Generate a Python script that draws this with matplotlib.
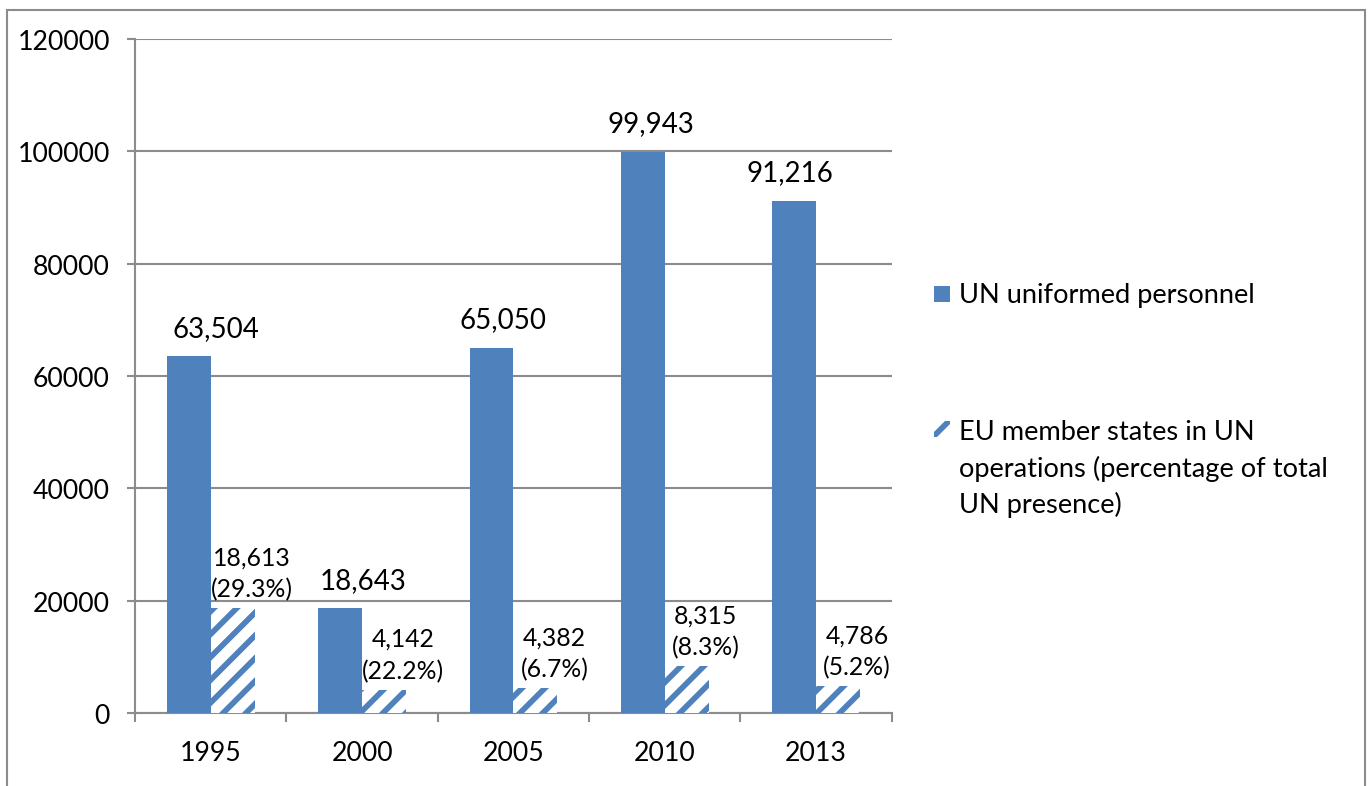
import numpy as np
import matplotlib
matplotlib.use("Agg")
import matplotlib.pyplot as plt
from matplotlib.patches import Rectangle

years = ["1995", "2000", "2005", "2010", "2013"]
un_personnel = [63504, 18643, 65050, 99943, 91216]
eu_personnel = [18613, 4142, 4382, 8315, 4786]
eu_share = ["29.3%", "22.2%", "6.7%", "8.3%", "5.2%"]

legend_labels = ["UN uniformed personnel",
                 "EU member states in UN\noperations (percentage of total\nUN presence)"]

blue = "#4F81BD"
grey = "#8C8C8C"

plt.rcParams["font.family"] = ["Lato", "DejaVu Sans"]
plt.rcParams["hatch.linewidth"] = 3.0

fig = plt.figure(figsize=(10, 5.74), dpi=137.1)
ax = fig.add_axes([0.0985, 0.0928, 0.552, 0.8564])

x = np.arange(len(years))
w = 0.29
b1 = ax.bar(x - w / 2, un_personnel, w, color=blue, zorder=3)
b2 = ax.bar(x + w / 2, eu_personnel, w, color="white", edgecolor=blue,
            hatch="//", linewidth=0, zorder=3)

ax.set_ylim(0, 120000)
ax.set_xlim(-0.5, len(years) - 0.5)
ax.set_yticks(np.arange(0, 120001, 20000))
ax.set_yticklabels([str(v) for v in range(0, 120001, 20000)], fontsize=14)
ax.yaxis.grid(True, color=grey, linewidth=1.1, zorder=0)
ax.set_axisbelow(True)

# boundary ticks at category edges, labels at centers
ax.set_xticks(np.arange(-0.5, len(years)), labels=[""] * (len(years) + 1))
ax.set_xticks(x, labels=years, minor=True)
ax.tick_params(axis="x", which="major", length=4.5, width=1.1, color=grey)
ax.tick_params(axis="x", which="minor", length=0, pad=14, labelsize=14)
ax.tick_params(axis="y", length=4.2, width=1.1, color=grey, pad=9)

for s in ["top", "right"]:
    ax.spines[s].set_visible(False)
for s in ["left", "bottom"]:
    ax.spines[s].set_color(grey)
    ax.spines[s].set_linewidth(1.1)

# data labels
blue_dx = [14, 12, 6, 4, -2]
for i, v in enumerate(un_personnel):
    ax.annotate(f"{v:,}", (x[i] - w / 2, v), xytext=(blue_dx[i], 8),
                textcoords="offset points", ha="center", va="bottom", fontsize=14.5)
for i, v in enumerate(eu_personnel):
    ax.annotate(f"{v:,}\n({eu_share[i]})", (x[i] + w / 2, v), xytext=(10, 4),
                textcoords="offset points", ha="center", va="bottom",
                fontsize=13, linespacing=1.45)

# chart border
fig.patches.append(Rectangle((7 / 1371, -0.05), 1358 / 1371, 1.05 - 11 / 787,
                             transform=fig.transFigure, fill=False,
                             edgecolor=grey, linewidth=1.1))

# legend
fig.patches.append(Rectangle((934 / 1371, 1 - 303 / 787), 16 / 1371, 16 / 787,
                             transform=fig.transFigure, facecolor=blue,
                             edgecolor="none"))
fig.text(959 / 1371, 1 - 296 / 787, legend_labels[0], fontsize=14.3, va="center")
fig.patches.append(Rectangle((934 / 1371, 1 - 438 / 787), 16 / 1371, 16 / 787,
                             transform=fig.transFigure, facecolor="white",
                             edgecolor=blue, hatch="//", linewidth=0))
fig.text(959 / 1371, 1 - 420 / 787, legend_labels[1], fontsize=14.3, va="top",
         linespacing=1.5)

fig.savefig("out.png", dpi=137.1)
